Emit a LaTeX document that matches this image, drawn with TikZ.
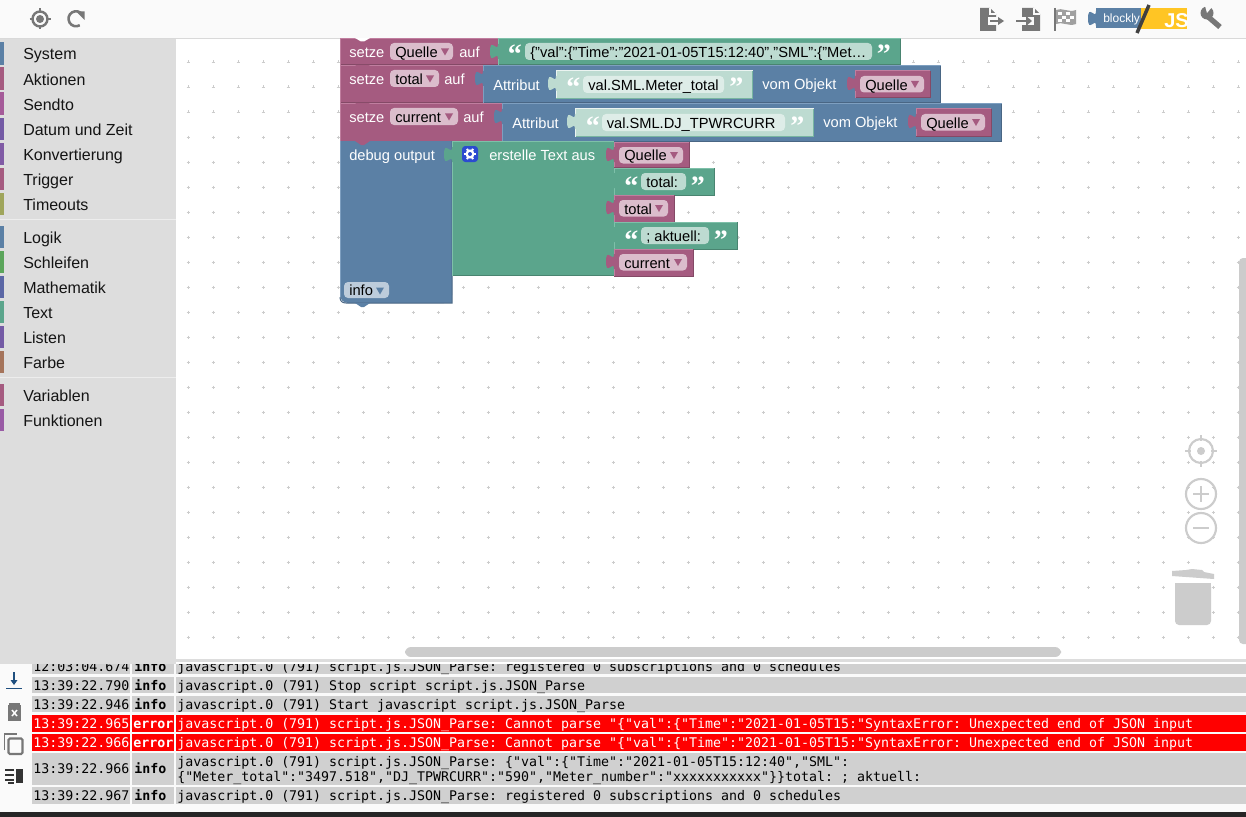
\documentclass[tikz,border=0pt]{standalone}
\usepackage{fontspec}
\setmainfont{Liberation Sans}
\newfontfamily\monof{DejaVu Sans Mono}
\newfontfamily\quotef{Liberation Serif}
\AtBeginDocument{\frenchspacing}
\definecolor{mag}{HTML}{A55B80}\definecolor{magd}{HTML}{844966}\definecolor{magl}{HTML}{C07E9F}\definecolor{magf}{HTML}{DBBDCC}
\definecolor{grn}{HTML}{5BA58C}\definecolor{grnd}{HTML}{498470}\definecolor{grnl}{HTML}{7EC0A9}\definecolor{grnf}{HTML}{BDDBD1}\definecolor{grnx}{HTML}{DEEDE8}
\definecolor{blu}{HTML}{5B80A5}\definecolor{blud}{HTML}{496684}\definecolor{blul}{HTML}{7E9FC0}\definecolor{bluf}{HTML}{BDCCDB}
\definecolor{icon}{HTML}{777777}\definecolor{canvasgrey}{HTML}{CCCCCC}\definecolor{rowgrey}{HTML}{D0D0D0}\definecolor{side}{HTML}{DDDDDD}
\definecolor{gearblue}{HTML}{2B4BD0}\definecolor{jsyellow}{HTML}{FFC524}\definecolor{dlblue}{HTML}{1F4F7F}
\tikzset{
 lab/.style={anchor=base west,inner sep=0pt,font=\fontsize{11}{13}\selectfont,text=white},
 dark/.style={lab,text=black},
 menu/.style={anchor=base west,inner sep=0pt,font=\fontsize{12}{14}\selectfont,text=black!92},
 logt/.style={anchor=base west,inner sep=0pt,font=\monof\fontsize{9.965}{11.4}\selectfont,text=black},
 logb/.style={logt,font=\monof\bfseries\fontsize{9.965}{11.4}\selectfont},
 qm/.style={anchor=base west,inner sep=0pt,font=\quotef\bfseries\fontsize{21}{21}\selectfont,text=#1},
 ring/.style={draw=canvasgrey,line width=1.6pt,fill=none},
}
% x1 y1 x2 y2 base dark light
\newcommand\blockrect[7]{%
 \fill[#5] (#1,#2) rectangle (#3,#4);
 \draw[#6,line width=.75pt] (#1,#4) -- (#3,#4) -- (#3,#2);
 \draw[#7,line width=.75pt] (#1,#4) -- (#1,#2) -- (#3,#2);}
\newcommand\puztab[3]{% x ytop colour
 \fill[#3] (#1+1,#2) -- (#1,#2) .. controls (#1,#2+10) and (#1-8,#2-8) .. (#1-8,#2+7.5)
   .. controls (#1-8,#2+23) and (#1,#2+5) .. (#1,#2+15) -- (#1+1,#2+15) -- cycle;}
\newcommand\notch[3]{% x y colour
 \fill[#3] (#1,#2) -- (#1+6,#2+4) -- (#1+9,#2+4) -- (#1+15,#2) -- cycle;}
\newcommand\field[5]{\fill[#5,rounded corners=3pt] (#1,#2) rectangle (#3,#4);}
\newcommand\ddtri[3]{\fill[#3] (#1-4,#2-3.5) -- (#1+4,#2-3.5) -- (#1,#2+3.5) -- cycle;}
\newcommand\varblock[5]{% x ytop xright ybottom text
 \blockrect{#1}{#2}{#3}{#4}{mag}{magd}{magl}
 \puztab{#1}{#2+5}{mag}
 \field{#1+5}{#2+5}{#3-6}{#2+21.5}{magf}
 \node[dark] at (#1+10,#2+19) {#5};
 \ddtri{#3-15}{#2+13.5}{mag}}
\begin{document}
\begin{tikzpicture}[x=0.75pt,y=-0.75pt]
\path[use as bounding box,fill=white] (0,0) rectangle (1246,817);
% toolbar
\fill[black!2] (0,0) rectangle (1246,38);
\draw[black!15,line width=.75pt] (0,38.5) -- (1246,38.5);
% grid
\foreach \x in {188,213,...,1238}\foreach \y in {62,87,...,637}{
 \draw[canvasgrey,line width=.6pt] (\x-1.5,\y) -- (\x+1.5,\y) (\x,\y-1.5) -- (\x,\y+1.5);}
% sidebar
\fill[side] (0,39) rectangle (176,664);
\foreach \yy/\cc/\lbl in {54/5B80A5/System,79/A55B80/Aktionen,104/A55B99/Sendto,129/745BA5/Datum und Zeit,154/805BA5/Konvertierung,179/A55B80/Trigger,204/9FA55B/Timeouts,237/5B80A5/Logik,262/5BA55B/Schleifen,287/5B67A5/Mathematik,312/5BA58C/Text,337/745BA5/Listen,362/A5745B/Farbe,395/A55B80/Variablen,420/995BA5/Funktionen}{
 \definecolor{tabc}{HTML}{\cc}
 \fill[tabc] (0,\yy-11.5) rectangle (4,\yy+11);
 \node[menu] at (23,\yy+6) {\lbl};}
\draw[black!7,line width=.75pt] (0,219.5) -- (176,219.5) (0,377.5) -- (176,377.5);
% scrollbars
\fill[canvasgrey,rounded corners=3pt] (1239,258) rectangle (1250,644);
\fill[canvasgrey,rounded corners=4.5pt] (405,647) rectangle (1061,657);
% canvas controls
\draw[ring] (1201,451) circle (12);
\fill[canvasgrey] (1201,451) circle (4);
\draw[canvasgrey,line width=1.6pt] (1201,435) -- (1201,441) (1201,461) -- (1201,467) (1185,451) -- (1191,451) (1211,451) -- (1217,451);
\draw[ring] (1201,494) circle (15);
\draw[canvasgrey,line width=1.6pt] (1193,494) -- (1209,494) (1201,486) -- (1201,502);
\draw[ring] (1201,528) circle (15);
\draw[canvasgrey,line width=1.6pt] (1193,528) -- (1209,528);
\fill[canvasgrey] (1172,571) -- (1186,570) -- (1192,569) -- (1202,570) -- (1204,572) -- (1214,574) -- (1214,579) -- (1172,576) -- cycle;
\fill[canvasgrey,rounded corners=3pt] (1175,583) -- (1211,583) -- (1211,625) -- (1175,625) -- cycle;
\fill[canvasgrey] (1175,583) rectangle (1211,600);

% ---- blocks
% block 1
\blockrect{340}{39}{498}{65}{mag}{magd}{magl}
\blockrect{498}{39}{900.5}{65}{grn}{grnd}{grnl}
\fill[white] (355,38) -- (361,41.5) -- (364,41.5) -- (370,38) -- cycle;
\puztab{498}{44}{grn}
\node[lab] at (349,58) {setze};
\field{390}{43}{453}{60}{magf}
\node[dark] at (395,58) {Quelle};
\ddtri{445}{52}{mag}
\node[lab] at (459,58) {auf};
\node[qm=white] at (507.5,64) {“};
\field{525}{43}{872}{60}{grnf}
\node[dark] at (530,58) {\{"val":\{"Time":"2021-01-05T15:12:40","SML":\{"Met…};
\node[qm=white] at (876.5,64) {”};
% block 2
\blockrect{340}{65.5}{483}{103}{mag}{magd}{magl}
\blockrect{483}{65.5}{940.5}{103}{blu}{blud}{blul}
\puztab{483}{71}{blu}
\notch{355}{65}{mag}
\node[lab] at (349,84.5) {setze};
\field{390}{70}{439}{87}{magf}
\node[dark] at (395,84.5) {total};
\ddtri{430}{79}{mag}
\node[lab] at (444,84.5) {auf};
\node[lab] at (493,90) {Attribut};
\blockrect{556}{71}{752.5}{98.5}{grnf}{grn!70!grnf}{white!70!grnf}
\puztab{556}{76}{grnf}
\node[qm=white] at (566,97) {“};
\field{583}{76}{724}{93}{grnx}
\node[dark] at (588,90) {val.SML.Meter\_total};
\node[qm=white] at (729,97) {”};
\node[lab] at (762,89.5) {vom Objekt};
\varblock{855}{71}{930}{98}{Quelle}
% block 3
\blockrect{340}{103.5}{502}{141}{mag}{magd}{magl}
\blockrect{502}{103.5}{1001.5}{141}{blu}{blud}{blul}
\puztab{502}{109}{blu}
\notch{355}{103}{mag}
\node[lab] at (349,122.5) {setze};
\field{390}{108}{458}{125}{magf}
\node[dark] at (395,122.5) {current};
\ddtri{449}{117}{mag}
\node[lab] at (463,122.5) {auf};
\node[lab] at (512,128) {Attribut};
\blockrect{575}{109}{813.5}{136.5}{grnf}{grn!70!grnf}{white!70!grnf}
\puztab{575}{114}{grnf}
\node[qm=white] at (585.5,135) {“};
\field{602}{114}{785}{131}{grnx}
\node[dark] at (606.5,128) {val.SML.DJ\_TPWRCURR};
\node[qm=white] at (790,135) {”};
\node[lab] at (823,127.5) {vom Objekt};
\varblock{916}{109}{991}{136}{Quelle}
% block 4
\fill[blu,rounded corners=6pt] (340,141) -- (340,303) -- (452,303) -- (452,141) -- cycle;
\fill[blu] (340,141) rectangle (452,160);
\fill[blu] (400,280) rectangle (452,303);
\draw[blud,line width=.75pt] (340,297) .. controls (340,301) and (342,303) .. (346,303) -- (452,303) -- (452,141);
\draw[blul,line width=.75pt] (340,297) -- (340,141);
\notch{355}{303}{blu}
\notch{355}{141}{mag}
\node[lab] at (349,160.5) {debug output};
\field{344}{282}{389}{298}{bluf}
\node[dark] at (349,295) {info};
\ddtri{380}{291}{blu}
% text join
\blockrect{452}{141.5}{614}{275.5}{grn}{grnd}{grnl}
\puztab{452}{147}{grn}
\fill[gearblue,rounded corners=2.5pt] (462,146) rectangle (478,162);
\foreach \a in {0,60,120}{\draw[white,line width=1.5pt] (470,154)+(\a:-6) -- +(\a:6);}
\fill[white] (470,154) circle (4.6);
\fill[gearblue] (470,154) circle (2);
\node[lab] at (489,160.5) {erstelle Text aus};
\varblock{614}{142}{689}{167}{Quelle}
\blockrect{614}{168}{714}{195}{grn}{grnd}{grnl}
\puztab{614}{173}{grn}
\node[qm=white] at (624,195) {“};
\field{641}{173}{686}{190}{grnf}
\node[dark] at (646,187) {total:};
\node[qm=white] at (690.5,195) {”};
\varblock{614}{195}{674}{222}{total}
\blockrect{614}{222}{737}{249}{grn}{grnd}{grnl}
\puztab{614}{227}{grn}
\node[qm=white] at (624,249) {“};
\field{641}{227}{709}{244}{grnf}
\node[dark] at (646,241) {; aktuell:};
\node[qm=white] at (713.5,249) {”};
\varblock{614}{249}{693}{276}{current}

% ---- top icons
\draw[icon,line width=1.8pt] (40,19) circle (7.5);
\fill[icon] (40,19) circle (4);
\draw[icon,line width=1.6pt] (40,8.5) -- (40,12.5) (40,25.5) -- (40,29.5) (29.5,19) -- (33.5,19) (46.5,19) -- (50.5,19);
\draw[icon,line width=1.9pt] (82.5,15) arc (-30:-300:7.5);
\fill[icon] (84.5,11.5) -- (84.5,20) -- (76,11.5) -- cycle;
% export
\fill[icon] (980,8) -- (990,8) -- (996,14) -- (996,31) -- (980,31) -- cycle;
\draw[black!2,line width=.9pt] (990,8) -- (990,14) -- (996,14);
\fill[black!2] (988,17) rectangle (997,25);
\fill[icon] (990,20) rectangle (998,22.2);
\fill[icon] (998,17) -- (1004,21) -- (998,25) -- cycle;
% import
\fill[icon] (1022,8) -- (1034,8) -- (1040,14) -- (1040,31) -- (1022,31) -- cycle;
\draw[black!2,line width=.9pt] (1034,8) -- (1034,14) -- (1040,14);
\fill[black!2] (1021,17) rectangle (1034,25);
\fill[icon] (1016,20) rectangle (1026,22.2);
\fill[icon] (1026,16) -- (1032,21) -- (1026,26) -- cycle;
% flag
\draw[icon,line width=1.6pt] (1055,8) -- (1055,31);
\fill[icon!70] (1056,10) .. controls (1062,7) and (1068,13) .. (1076,10) -- (1076,24) .. controls (1068,27) and (1062,21) .. (1056,24) -- cycle;
\foreach \x/\y in {1058/12,1066/12,1062/16,1070/16,1058/19,1066/19}{\fill[white] (\x,\y) rectangle (\x+4,\y+3.5);}
% language switch
\fill[jsyellow] (1141,8) rectangle (1187,29);
\fill[blu] (1096,8) rectangle (1141,28);
\puztab{1096}{11}{blu}
\node[anchor=base west,inner sep=0pt,font=\fontsize{9}{10}\selectfont,text=white] at (1103,23) {blockly};
\node[anchor=base west,inner sep=0pt,font=\bfseries\fontsize{15}{15}\selectfont,text=white] at (1164,28) {JS};
\draw[black!75,line width=2.6pt] (1137,33) -- (1149,5);
% wrench
\draw[icon,line width=4pt] (1206,15) -- (1220,27);
\fill[icon] (1207,13) circle (6.5);
\fill[black!2] (1205,6) -- (1208,5) -- (1212,7) -- (1207,13) -- cycle;

% ---- log panel
\fill[white] (176,657) rectangle (1246,664);
\fill[side] (0,659) rectangle (1246,662);
\fill[side] (0,660) rectangle (176,664);
\fill[black!2] (0,664) rectangle (1246,812);
\fill[black!85] (0,812) rectangle (1246,817);
% rows
\begin{scope}
\clip (0,664) rectangle (1246,812);
\foreach \ya/\yb/\cc in {660/674/rowgrey,677/693/rowgrey,696/712/rowgrey,715/732/red,734/751/red,753/785/rowgrey,787/804/rowgrey}{
 \fill[\cc] (32,\ya) rectangle (130,\yb);
 \fill[\cc] (132,\ya) rectangle (174,\yb);
 \fill[\cc] (176,\ya) rectangle (1246,\yb);}
\node[logt] at (33,671) {12:03:04.674};
\node[logb] at (134,671) {info};
\node[logt] at (177,671) {javascript.0 (791) script.js.JSON\_Parse: registered 0 subscriptions and 0 schedules};
\end{scope}
\node[logt] at (33,690) {13:39:22.790};
\node[logb] at (134,690) {info};
\node[logt] at (177,690) {javascript.0 (791) Stop script script.js.JSON\_Parse};
\node[logt] at (33,709) {13:39:22.946};
\node[logb] at (134,709) {info};
\node[logt] at (177,709) {javascript.0 (791) Start javascript script.js.JSON\_Parse};
\node[logt,text=white] at (33,728) {13:39:22.965};
\node[logb,text=white] at (133,728) {error};
\node[logt,text=white] at (177,728) {javascript.0 (791) script.js.JSON\_Parse: Cannot parse "\{"val":\{"Time":"2021-01-05T15:"SyntaxError: Unexpected end of JSON input};
\node[logt,text=white] at (33,747) {13:39:22.966};
\node[logb,text=white] at (133,747) {error};
\node[logt,text=white] at (177,747) {javascript.0 (791) script.js.JSON\_Parse: Cannot parse "\{"val":\{"Time":"2021-01-05T15:"SyntaxError: Unexpected end of JSON input};
\node[logt] at (33,773) {13:39:22.966};
\node[logb] at (134,773) {info};
\node[logt] at (177,766) {javascript.0 (791) script.js.JSON\_Parse: \{"val":\{"Time":"2021-01-05T15:12:40","SML":};
\node[logt] at (177,781) {\{"Meter\_total":"3497.518","DJ\_TPWRCURR":"590","Meter\_number":"xxxxxxxxxxx"\}\}total: ; aktuell:};
\node[logt] at (33,800) {13:39:22.967};
\node[logb] at (134,800) {info};
\node[logt] at (177,800) {javascript.0 (791) script.js.JSON\_Parse: registered 0 subscriptions and 0 schedules};
% log icons
\draw[dlblue,line width=1.2pt] (6,688.5) -- (22,688.5) (14,672) -- (14,683);
\fill[dlblue] (10.5,680) -- (17.5,680) -- (14,685) -- cycle;
\fill[icon] (8,705) rectangle (21,721);
\fill[icon] (9,703) rectangle (20,704.5);
\draw[white,line width=1.1pt] (12,710) -- (17,716) (17,710) -- (12,716);
\draw[icon,line width=1.2pt] (4.5,750) -- (4.5,734) -- (17,734);
\draw[icon,line width=1.6pt,rounded corners=1pt] (8.5,738.5) rectangle (22.5,754);
\fill[black!80] (15.5,769) rectangle (23,783);
\foreach \y in {769,774,779}{\fill[black!80] (5,\y) rectangle (13.5,\y+1.6);}
\fill[black!80] (8,782) rectangle (13.5,783.5);
\end{tikzpicture}
\end{document}
